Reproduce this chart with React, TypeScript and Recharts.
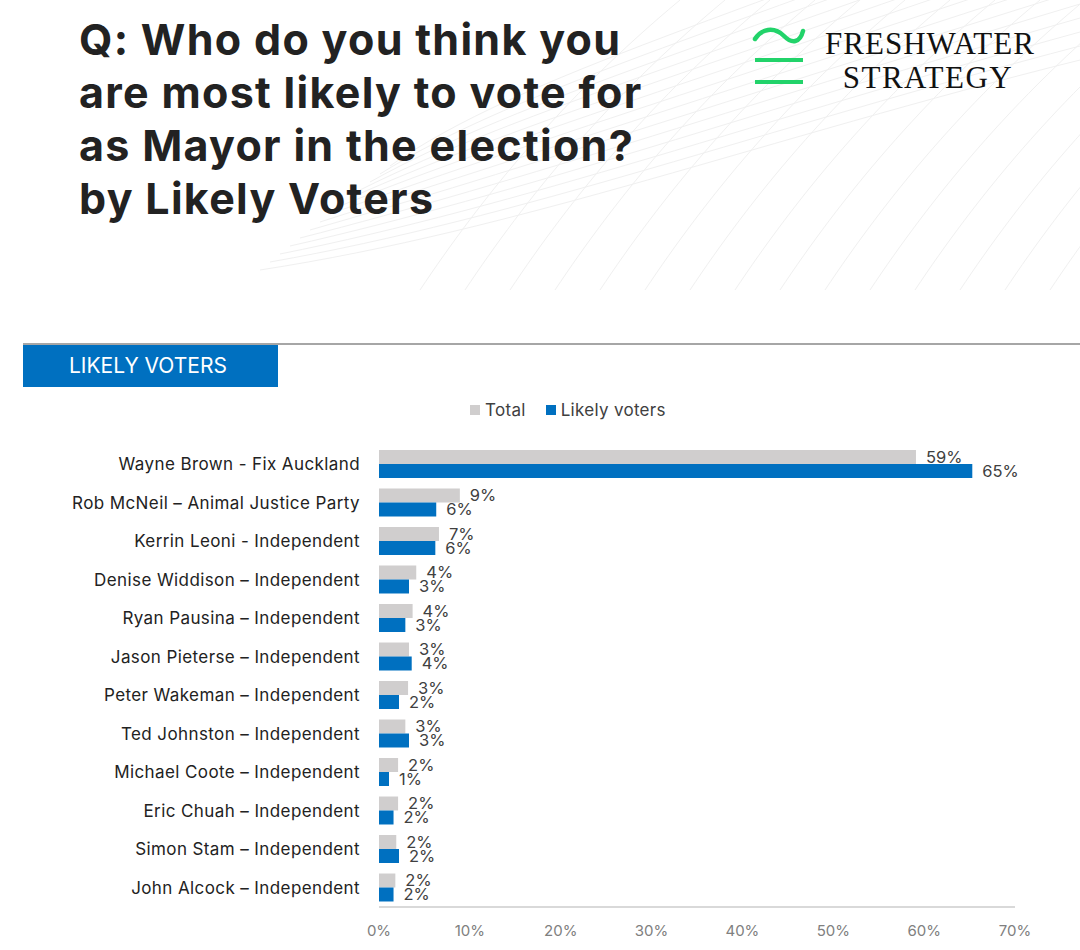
import React from 'react';
import { BarChart, Bar, XAxis, YAxis, Legend, LabelList } from 'recharts';

const candidates = [
  'Wayne Brown - Fix Auckland',
  'Rob McNeil – Animal Justice Party',
  'Kerrin Leoni - Independent',
  'Denise Widdison – Independent',
  'Ryan Pausina – Independent',
  'Jason Pieterse – Independent',
  'Peter Wakeman – Independent',
  'Ted Johnston – Independent',
  'Michael Coote – Independent',
  'Eric Chuah – Independent',
  'Simon Stam – Independent',
  'John Alcock – Independent',
];
const totalValues = [59.1, 8.9, 6.6, 4.1, 3.7, 3.3, 3.2, 2.9, 2.1, 2.1, 1.9, 1.8];
const likelyValues = [65.3, 6.3, 6.2, 3.3, 2.9, 3.6, 2.2, 3.3, 1.1, 1.6, 2.2, 1.6];
const xTicks = [0, 10, 20, 30, 40, 50, 60, 70];
const titleLines = [
  'Q: Who do you think you',
  'are most likely to vote for',
  'as Mayor in the election?',
  'by Likely Voters',
];

const GREY = '#D0CECE';
const BLUE = '#0070C0';
const FONT = 'Inter, "Open Sans", sans-serif';

const data = candidates.map((name, i) => ({
  name,
  Total: totalValues[i],
  'Likely voters': likelyValues[i],
}));

const pct = (v: number) => `${Math.round(v)}%`;

function Mesh() {
  // faint decorative grid in the top right corner
  const paths: string[] = [];
  for (let i = 0; i < 14; i++) {
    const y0 = 270 - i * 8;
    paths.push(`M ${260 + i * 10} ${y0} C 520 ${230 - i * 12}, 760 ${140 - i * 10}, 1080 ${60 - i * 14}`);
  }
  for (let i = 0; i < 16; i++) {
    const x0 = 420 + i * 45;
    paths.push(`M ${x0} 290 C ${x0 + 60} 200, ${x0 + 140} 100, ${x0 + 260} 0`);
  }
  return (
    <svg width={1080} height={330} style={{ position: 'absolute', left: 0, top: 0 }}>
      {paths.map((d, i) => (
        <path key={i} d={d} fill="none" stroke="#F0F0F0" strokeWidth={1} />
      ))}
    </svg>
  );
}

function Logo() {
  return (
    <svg width={320} height={100} style={{ position: 'absolute', left: 740, top: 10 }}>
      <path d="M 15 29 C 21 19, 34 16, 44 26 C 52 34, 60 33, 63 21" fill="none" stroke="#22D36A" strokeWidth={4.5} strokeLinecap="round" />
      <rect x={15} y={48} width={48} height={4} fill="#22D36A" />
      <rect x={15} y={70} width={48} height={4} fill="#22D36A" />
      <text x={190} y={44} textAnchor="middle" fontFamily='"Liberation Serif", serif' fontSize={31} letterSpacing={1} fill="#111">
        FRESHWATER
      </text>
      <text x={188} y={78} textAnchor="middle" fontFamily='"Liberation Serif", serif' fontSize={31} letterSpacing={1.5} fill="#111">
        STRATEGY
      </text>
    </svg>
  );
}

function LegendContent() {
  const items = [
    { label: 'Total', color: GREY },
    { label: 'Likely voters', color: BLUE },
  ];
  return (
    <div style={{ display: 'flex', gap: 20, fontFamily: FONT, fontSize: 17, color: '#404040', letterSpacing: 0.3 }}>
      {items.map((it) => (
        <div key={it.label} style={{ display: 'flex', alignItems: 'center', gap: 5 }}>
          <span style={{ width: 10, height: 10, background: it.color, display: 'inline-block' }} />
          {it.label}
        </div>
      ))}
    </div>
  );
}

export default function App() {
  return (
    <div style={{ position: 'absolute', left: 0, top: 0, width: 1080, height: 950, background: '#fff', overflow: 'hidden' }}>
      <Mesh />
      <Logo />
      <div
        style={{
          position: 'absolute',
          left: 79,
          top: 13,
          fontFamily: FONT,
          fontWeight: 700,
          fontSize: 43,
          lineHeight: '53px',
          color: '#222',
          letterSpacing: 1.3,
        }}
      >
        {titleLines.map((l) => (
          <div key={l}>{l}</div>
        ))}
      </div>

      <div style={{ position: 'absolute', left: 23, top: 343, width: 1057, height: 2, background: '#A6A6A6' }} />
      <div
        style={{
          position: 'absolute',
          left: 23,
          top: 345,
          width: 255,
          height: 42,
          background: BLUE,
          color: '#fff',
          fontFamily: FONT,
          fontSize: 21,
          lineHeight: '42px',
          paddingLeft: 46,
          boxSizing: 'border-box',
        }}
      >
        LIKELY VOTERS
      </div>

      <div style={{ position: 'absolute', left: 0, top: 390 }}>
        <BarChart
          width={1080}
          height={560}
          data={data}
          layout="vertical"
          margin={{ top: 35, right: 65, left: 0, bottom: 13 }}
          barGap={0}
          barSize={14}
        >
          <XAxis
            type="number"
            domain={[0, 70]}
            ticks={xTicks}
            tickFormatter={(v) => `${v}%`}
            tick={{ fill: '#808080', fontSize: 15, fontFamily: FONT }}
            tickLine={false}
            axisLine={{ stroke: '#D9D9D9', strokeWidth: 2 }}
            tickMargin={12}
            height={30}
          />
          <YAxis
            type="category"
            dataKey="name"
            width={379}
            tick={{ fill: '#222', fontSize: 17, fontFamily: FONT, letterSpacing: 0.4 }}
            tickLine={false}
            axisLine={false}
            tickSize={0}
            tickMargin={19}
            interval={0}
          />
          <Legend
            verticalAlign="top"
            content={() => <LegendContent />}
            wrapperStyle={{ top: 10, left: 470, width: 'auto' }}
          />
          <Bar dataKey="Total" fill={GREY} isAnimationActive={false}>
            <LabelList
              dataKey="Total"
              position="right"
              offset={10}
              formatter={pct}
              style={{ fill: '#404040', fontSize: 16.5, fontFamily: FONT }}
            />
          </Bar>
          <Bar dataKey="Likely voters" fill={BLUE} isAnimationActive={false}>
            <LabelList
              dataKey="Likely voters"
              position="right"
              offset={10}
              formatter={pct}
              style={{ fill: '#404040', fontSize: 16.5, fontFamily: FONT }}
            />
          </Bar>
        </BarChart>
      </div>
    </div>
  );
}
